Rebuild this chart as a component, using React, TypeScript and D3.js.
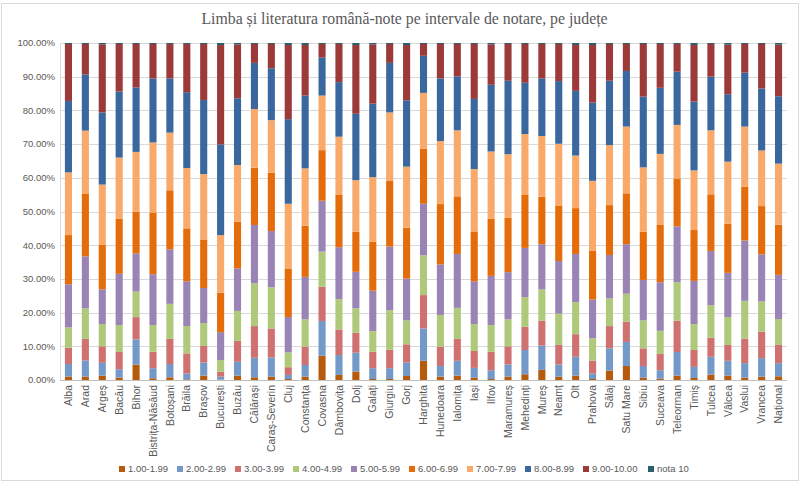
import React from 'react';
import * as d3 from 'd3';

const categories = [
  'Alba', 'Arad', 'Argeș', 'Bacău', 'Bihor', 'Bistrița-Năsăud', 'Botoșani', 'Brăila', 'Brașov', 'București',
  'Buzău', 'Călărași', 'Caraș-Severin', 'Cluj', 'Constanța', 'Covasna', 'Dâmbovița', 'Dolj', 'Galați', 'Giurgiu',
  'Gorj', 'Harghita', 'Hunedoara', 'Ialomița', 'Iași', 'Ilfov', 'Maramureș', 'Mehedinți', 'Mureș', 'Neamț',
  'Olt', 'Prahova', 'Sălaj', 'Satu Mare', 'Sibiu', 'Suceava', 'Teleorman', 'Timiș', 'Tulcea', 'Vâlcea',
  'Vaslui', 'Vrancea', 'Național',
];

// percentages per grade interval, one value per county (same order as categories)
const n1 = [1.0, 1.0, 1.3, 0.7, 4.55, 0.5, 0.8, 0.2, 1.3, 0.1, 1.3, 0.8, 1.0, 0.3, 1.0, 7.2, 1.5, 2.5, 0.3, 0.3, 1.2, 5.7, 1.0, 1.3, 0.7, 0.3, 1.0, 1.7, 3.0, 1.0, 1.3, 0.3, 2.8, 4.15, 0.7, 0.4, 1.3, 0.6, 1.6, 1.3, 0.7, 1.0, 1.1];
const n2 = [3.75, 4.8, 3.8, 2.5, 7.5, 3.0, 3.95, 1.7, 3.9, 0.9, 4.1, 5.8, 5.7, 1.2, 3.45, 10.3, 5.9, 5.6, 3.2, 3.2, 4.0, 9.6, 3.15, 4.4, 2.9, 2.6, 3.6, 7.2, 7.2, 3.6, 5.6, 1.6, 6.6, 7.15, 3.45, 2.5, 7.0, 3.3, 5.3, 4.4, 4.3, 5.5, 3.9];
const n3 = [4.85, 6.4, 4.9, 5.1, 6.6, 4.9, 7.45, 6.0, 4.9, 1.5, 6.2, 9.4, 8.6, 2.3, 5.45, 10.2, 7.6, 5.9, 4.9, 5.5, 5.4, 9.9, 5.75, 6.5, 5.0, 5.5, 5.4, 6.9, 7.4, 5.8, 6.7, 3.8, 6.6, 6.0, 5.25, 4.8, 9.3, 5.0, 5.7, 4.7, 7.3, 7.8, 5.4];
const n4 = [6.0, 9.1, 6.6, 8.0, 7.6, 7.9, 10.4, 8.1, 6.8, 3.4, 8.9, 12.7, 12.2, 4.4, 8.1, 10.4, 9.0, 7.3, 6.1, 11.7, 7.1, 11.8, 9.4, 9.2, 8.0, 7.9, 8.0, 8.8, 9.3, 9.3, 9.5, 6.7, 8.2, 8.3, 8.3, 6.9, 11.4, 7.7, 9.6, 8.3, 11.2, 9.0, 7.7];
const n5 = [12.8, 15.4, 10.3, 15.2, 11.3, 15.1, 16.2, 13.3, 10.4, 8.3, 12.6, 17.3, 16.7, 10.5, 12.6, 15.1, 15.4, 10.8, 12.0, 18.9, 12.4, 15.3, 15.0, 16.0, 12.7, 14.6, 14.0, 14.6, 13.4, 15.6, 14.3, 11.5, 12.9, 14.7, 12.0, 14.4, 16.6, 12.8, 16.1, 13.1, 17.9, 14.0, 13.1];
const n6 = [14.6, 18.5, 13.3, 16.3, 12.4, 18.3, 17.5, 15.7, 14.4, 11.7, 13.9, 17.0, 17.3, 14.4, 15.2, 15.0, 15.5, 11.9, 14.5, 19.6, 15.1, 16.4, 17.9, 17.1, 14.8, 17.0, 16.1, 15.7, 14.1, 16.5, 13.6, 14.4, 14.8, 15.1, 14.3, 17.0, 14.2, 15.1, 16.8, 14.6, 16.0, 14.3, 14.9];
const n7 = [18.6, 18.8, 17.8, 18.2, 17.7, 20.8, 17.1, 17.9, 19.4, 17.1, 16.8, 17.4, 15.6, 19.2, 17.0, 16.2, 17.3, 15.3, 19.2, 20.2, 18.1, 16.5, 18.7, 19.6, 18.5, 19.9, 18.9, 18.1, 18.0, 18.3, 15.6, 20.8, 17.8, 19.8, 19.1, 21.1, 15.9, 17.7, 19.0, 18.4, 17.8, 16.5, 18.1];
const n8 = [21.2, 16.7, 21.4, 19.6, 19.1, 19.0, 16.1, 22.5, 22.0, 26.9, 19.8, 13.7, 15.4, 25.1, 21.6, 11.3, 16.2, 19.7, 21.8, 14.7, 19.7, 11.0, 18.6, 16.0, 20.8, 19.8, 21.8, 15.2, 17.1, 18.6, 19.2, 23.2, 19.1, 16.5, 21.0, 19.6, 15.8, 20.4, 15.9, 20.0, 16.0, 18.4, 20.0];
const n9 = [16.9, 9.0, 20.2, 14.1, 12.9, 10.2, 10.2, 14.3, 16.6, 29.5, 16.0, 5.6, 7.2, 22.0, 15.0, 4.0, 11.3, 20.4, 17.6, 5.6, 16.4, 3.5, 10.2, 9.6, 16.3, 12.0, 10.9, 11.5, 10.2, 11.0, 13.6, 17.1, 10.9, 8.0, 15.6, 13.0, 8.2, 16.8, 9.7, 14.7, 8.5, 13.2, 15.3];
const n10 = [0.3, 0.3, 0.4, 0.3, 0.3, 0.3, 0.3, 0.3, 0.3, 0.6, 0.4, 0.3, 0.3, 0.6, 0.6, 0.3, 0.3, 0.6, 0.4, 0.3, 0.6, 0.3, 0.3, 0.3, 0.3, 0.4, 0.3, 0.3, 0.3, 0.3, 0.6, 0.6, 0.3, 0.3, 0.3, 0.3, 0.3, 0.6, 0.3, 0.5, 0.3, 0.3, 0.5];

const seriesNames = ['1.00-1.99', '2.00-2.99', '3.00-3.99', '4.00-4.99', '5.00-5.99', '6.00-6.99', '7.00-7.99', '8.00-8.99', '9.00-10.00', 'nota 10'];
const seriesValues = [n1, n2, n3, n4, n5, n6, n7, n8, n9, n10];
const colors = ['#b65a0c', '#7399c8', '#cf7170', '#afc97a', '#9a84b6', '#e46c0a', '#f9aa6a', '#3a679d', '#9c3a39', '#2b5f6b'];

const W = 803;
const H = 484;
const margin = { top: 43, right: 16, bottom: 104, left: 60 };

export default function App() {
  const rows = categories.map((c, i) => {
    const r: Record<string, any> = { cat: c };
    seriesNames.forEach((s, k) => { r[s] = seriesValues[k][i]; });
    return r;
  });

  const stacked = d3.stack<any>()
    .keys(seriesNames)
    .offset(d3.stackOffsetExpand)(rows);

  const x = d3.scaleBand()
    .domain(categories)
    .range([margin.left, W - margin.right])
    .paddingInner(0.58)
    .paddingOuter(0.29);

  const y = d3.scaleLinear()
    .domain([0, 1])
    .range([H - margin.bottom, margin.top]);

  const ticks = d3.range(0, 1.0001, 0.1);
  const fmt = d3.format('.2%');
  const axisFont = '"Liberation Sans", Arial, sans-serif';

  // legend layout, wider slot for longer labels
  let lx = 119;
  const legendItems = seriesNames.map((s, k) => {
    const item = { s, k, x: lx };
    lx += 7 * s.length - 5;
    return item;
  });

  return (
    <div style={{ position: 'absolute', left: 0, top: 0 }}>
      <svg width={W} height={H} style={{ display: 'block', background: '#fff' }}>
        <rect x={1.5} y={3.5} width={797} height={477} fill="#fff" stroke="#d9d9d9" />
        <text x={W / 2 + 3} y={24} textAnchor="middle" fontFamily='"Liberation Serif", serif' fontSize={15.8} fill="#595959">
          Limba și literatura română-note pe intervale de notare, pe județe
        </text>

        {ticks.map((t, i) => (
          <g key={i}>
            <line x1={margin.left} x2={W - margin.right} y1={Math.round(y(t)) + 0.5} y2={Math.round(y(t)) + 0.5}
              stroke={i === 0 ? '#bfbfbf' : '#d9d9d9'} />
            <text x={margin.left - 5} y={y(t)} dy="0.35em" textAnchor="end" fontFamily={axisFont} fontSize={9.5} fill="#595959">
              {fmt(t)}
            </text>
          </g>
        ))}
        <line x1={margin.left + 0.5} x2={margin.left + 0.5} y1={margin.top} y2={H - margin.bottom} stroke="#d9d9d9" />

        {stacked.map((layer, k) => (
          <g key={layer.key} fill={colors[k]}>
            {layer.map((d, i) => (
              <rect key={i}
                x={x(categories[i])!}
                width={x.bandwidth()}
                y={y(d[1])}
                height={Math.max(0, y(d[0]) - y(d[1]))} />
            ))}
          </g>
        ))}

        {categories.map(c => (
          <text key={c} transform={`translate(${x(c)! + x.bandwidth() / 2},${H - margin.bottom + 5}) rotate(-90)`}
            textAnchor="end" dy="0.35em" fontFamily={axisFont} fontSize={10.5} fill="#595959">
            {c}
          </text>
        ))}

        {legendItems.map(it => (
          <g key={it.s}>
            <rect x={it.x} y={466} width={6} height={6} fill={colors[it.k]} />
            <text x={it.x + 9} y={469} dy="0.35em" fontFamily={axisFont} fontSize={9.5} fill="#595959">{it.s}</text>
          </g>
        ))}
      </svg>
    </div>
  );
}
